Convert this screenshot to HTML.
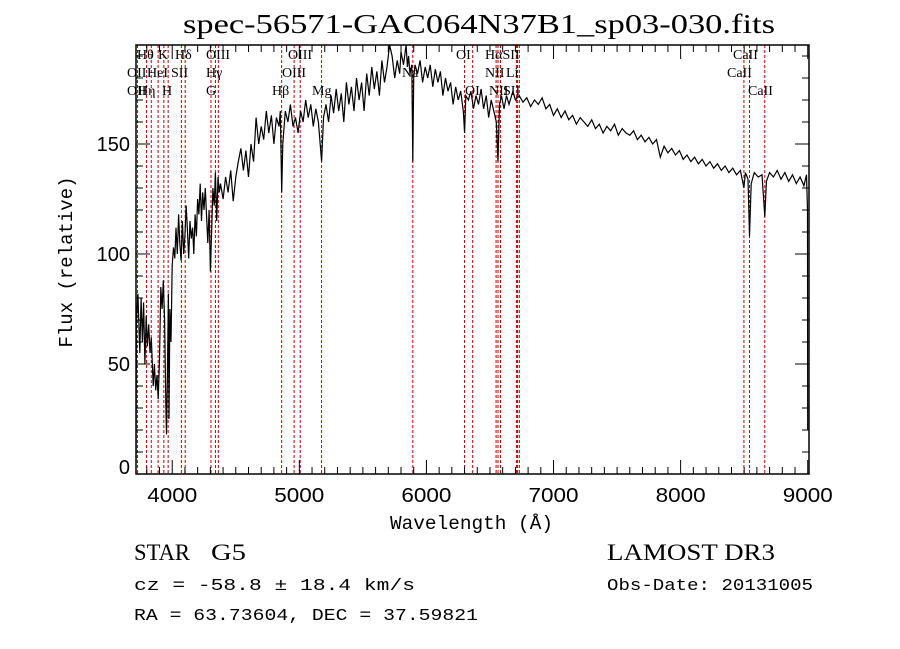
<!DOCTYPE html>
<html><head><meta charset="utf-8"><style>
html,body{margin:0;padding:0;background:#fff;}
svg{display:block;}
.ser{font-family:"Liberation Serif",serif;}
.san{font-family:"Liberation Sans",sans-serif;}
.mono{font-family:"Liberation Mono",monospace;}
</style></head><body>
<svg id="chart" width="900" height="649" viewBox="0 0 900 649" xmlns="http://www.w3.org/2000/svg">
<rect width="900" height="649" fill="#fff"/>
<text x="183" y="33" textLength="592" lengthAdjust="spacingAndGlyphs" class="ser" font-size="27">spec-56571-GAC064N37B1_sp03-030.fits</text>
<g id="lines"></g>
<g id="labels" class="ser" font-size="14"></g>
<clipPath id="clip"><rect x="136" y="45" width="673" height="429"/></clipPath>
<path id="spec" fill="none" stroke="#000" stroke-width="1.2" clip-path="url(#clip)"/>
<rect x="136" y="45" width="673" height="429" fill="none" stroke="#000" stroke-width="1.5"/>
<g id="ticks"></g>
<g id="ticklabels" class="san" font-size="20"></g>
<text x="390" y="529" textLength="163" lengthAdjust="spacingAndGlyphs" class="mono" font-size="19">Wavelength (Å)</text>
<text transform="translate(72,262) rotate(-90)" text-anchor="middle" class="mono" font-size="19">Flux (relative)</text>
<text x="134" y="560" textLength="56" lengthAdjust="spacingAndGlyphs" class="ser" font-size="23">STAR</text>
<text x="211" y="560" textLength="35" lengthAdjust="spacingAndGlyphs" class="ser" font-size="23">G5</text>
<text x="607" y="560" textLength="168" lengthAdjust="spacingAndGlyphs" class="ser" font-size="23">LAMOST DR3</text>
<text x="134" y="590" textLength="281" lengthAdjust="spacingAndGlyphs" class="mono" font-size="17">cz = -58.8 ± 18.4 km/s</text>
<text x="607" y="590" textLength="206" lengthAdjust="spacingAndGlyphs" class="mono" font-size="17">Obs-Date: 20131005</text>
<text x="134" y="620" textLength="344" lengthAdjust="spacingAndGlyphs" class="mono" font-size="17">RA =  63.73604, DEC =  37.59821</text>
</svg>
<script>
const wavelengths=[3715,3718,3730,3745,3755,3765,3775,3785,3795,3805,3815,3825,3835,3850,3860,3870,3880,3890,3900,3910,3920,3930,3940,3950,3955,3962,3970,3975,3982,3990,4000,4010,4020,4030,4040,4050,4060,4070,4080,4090,4100,4110,4120,4130,4140,4150,4160,4170,4180,4190,4200,4210,4220,4230,4240,4250,4260,4270,4280,4290,4300,4310,4320,4330,4340,4350,4360,4370,4380,4400,4420,4440,4460,4480,4500,4520,4540,4560,4580,4600,4620,4640,4660,4680,4700,4720,4740,4760,4780,4800,4820,4840,4850,4861,4870,4890,4910,4930,4950,4970,4990,5010,5030,5050,5070,5090,5110,5130,5150,5175,5190,5210,5230,5250,5270,5290,5310,5330,5350,5370,5390,5410,5430,5450,5470,5490,5510,5530,5550,5570,5590,5610,5630,5650,5670,5690,5710,5730,5750,5770,5790,5800,5820,5840,5850,5860,5870,5885,5893,5900,5910,5930,5950,5970,5990,6010,6030,6050,6070,6090,6110,6130,6150,6170,6190,6210,6230,6250,6270,6290,6300,6310,6330,6350,6370,6390,6410,6430,6450,6470,6490,6510,6530,6550,6563,6575,6590,6610,6630,6650,6680,6700,6730,6760,6790,6820,6850,6880,6910,6940,6970,7000,7030,7060,7090,7120,7150,7180,7210,7240,7270,7300,7330,7360,7390,7420,7450,7480,7510,7540,7570,7600,7630,7660,7690,7720,7750,7780,7810,7840,7870,7900,7930,7960,7990,8020,8050,8080,8110,8140,8170,8200,8230,8260,8290,8320,8350,8380,8410,8440,8470,8498,8510,8530,8542,8555,8580,8610,8640,8662,8675,8700,8730,8760,8790,8820,8850,8880,8910,8940,8970,8990,8998,9000];
const fluxes=[5,70,82,55,80,60,78,50,72,58,68,55,62,40,50,38,45,34,52,85,75,88,70,30,18,45,82,25,75,60,95,103,98,112,100,118,105,97,115,100,108,122,110,98,115,107,112,100,118,108,125,118,132,115,128,120,130,118,105,120,92,110,130,122,137,115,135,128,132,125,135,128,138,124,135,142,148,138,147,135,150,142,162,150,158,152,165,155,163,150,162,158,165,128,150,165,160,168,158,162,155,165,160,170,162,168,158,166,160,142,162,168,160,172,164,175,165,173,160,178,168,176,165,180,170,178,165,182,172,185,175,183,172,188,178,185,195,190,180,188,182,192,186,195,185,190,182,186,142,180,186,182,188,178,185,180,186,176,184,178,183,172,180,174,178,168,176,170,174,165,155,172,170,174,166,172,168,175,166,172,162,170,165,160,142,168,172,166,172,168,174,170,172,169,171,167,170,168,171,166,168,163,166,162,165,161,163,159,162,160,158,161,157,159,155,158,156,159,154,157,155,154,156,152,154,151,153,150,152,144,149,146,148,145,147,143,145,142,144,141,143,140,142,139,141,138,140,137,139,136,138,130,137,134,108,132,137,135,136,117,133,137,135,138,134,137,133,136,132,135,131,136,120,20];
const lineWaves=[3727,3798,3835,3889,3934,3968,4072,4102,4305,4340,4363,4861,4959,5007,5175,5893,6300,6364,6548,6563,6583,6708,6717,6731,8498,8542,8662];
const lineLabels=[["Hθ",137,59],["K",158,59],["Hδ",175,59],["OIII",206,59],["OIII",288,59],["OI",456,59],["HαSII",485,59],["CaII",733,59],
["OII",127,77],["HeI",147,77],["SII",171,77],["Hγ",206,77],["OIII",282,77],["Na",402,77],["NII",485,77],["Li",506,77],["CaII",727,77],
["OII",127,95],["Hη",138,95],["H",162,95],["G",206,95],["Hβ",272,95],["Mg",312,95],["OI",465,95],["NII",489,95],["SII",503,95],["CaII",748,95]];
const xTicks=[4000,5000,6000,7000,8000,9000];
const yTicks=[0,50,100,150];
const X0=136,X1=809,Y0=474,Y1=45,WMIN=3715,WMAX=9010,FMIN=0,FMAX=195;
const xs=w=>X0+(w-WMIN)/(WMAX-WMIN)*(X1-X0);
const ys=f=>Y0-(f-FMIN)/(FMAX-FMIN)*(Y0-Y1);
const NS="http://www.w3.org/2000/svg";
function mk(tag,parent){const e=document.createElementNS(NS,tag);document.getElementById(parent).appendChild(e);return e;}
let d="";
wavelengths.forEach((w,i)=>{d+=(i?"L":"M")+xs(w).toFixed(1)+","+ys(fluxes[i]).toFixed(1);});
document.getElementById("spec").setAttribute("d",d);
lineWaves.forEach(w=>{
  const l=mk("line","lines");
  
  
  const x=xs(w);
  l.setAttribute("x1",x);l.setAttribute("x2",x);l.setAttribute("y1",Y1);l.setAttribute("y2",Y0);
  l.setAttribute("stroke","#c00000");l.setAttribute("stroke-width","1");l.setAttribute("stroke-dasharray","3,2");
});
lineLabels.forEach(a=>{
  const t=mk("text","labels");
  
  
  t.setAttribute("x",a[1]);t.setAttribute("y",a[2]);t.textContent=a[0];
});
for(let w=3800;w<=9000;w+=100){
  const major=w%1000===0;const len=major?14:7;const x=xs(w);
  const b=mk("line","ticks");
  
  
  b.setAttribute("x1",x);b.setAttribute("x2",x);b.setAttribute("y1",Y0);b.setAttribute("y2",Y0-len);b.setAttribute("stroke","#000");
  const t=mk("line","ticks");
  
  
  t.setAttribute("x1",x);t.setAttribute("x2",x);t.setAttribute("y1",Y1);t.setAttribute("y2",Y1+len);t.setAttribute("stroke","#000");
}
for(let f=0;f<=190;f+=10){
  const major=f%50===0;const len=major?14:7;const y=ys(f);
  const l=mk("line","ticks");
  
  
  l.setAttribute("x1",X0);l.setAttribute("x2",X0+len);l.setAttribute("y1",y);l.setAttribute("y2",y);l.setAttribute("stroke","#000");
  const r=mk("line","ticks");
  
  
  r.setAttribute("x1",X1);r.setAttribute("x2",X1-len);r.setAttribute("y1",y);r.setAttribute("y2",y);r.setAttribute("stroke","#000");
}
xTicks.forEach(w=>{
  const t=mk("text","ticklabels");
  
  
  t.setAttribute("x",xs(w)-25);t.setAttribute("y",Y0+28);t.setAttribute("textLength","50");t.setAttribute("lengthAdjust","spacingAndGlyphs");t.textContent=w;
});
yTicks.forEach(f=>{
  const t=mk("text","ticklabels");
  
  
  t.setAttribute("x",X0-6);t.setAttribute("y",Math.min(ys(f)+7,Y0));t.setAttribute("text-anchor","end");t.textContent=f;
});
</script>
</body></html>
